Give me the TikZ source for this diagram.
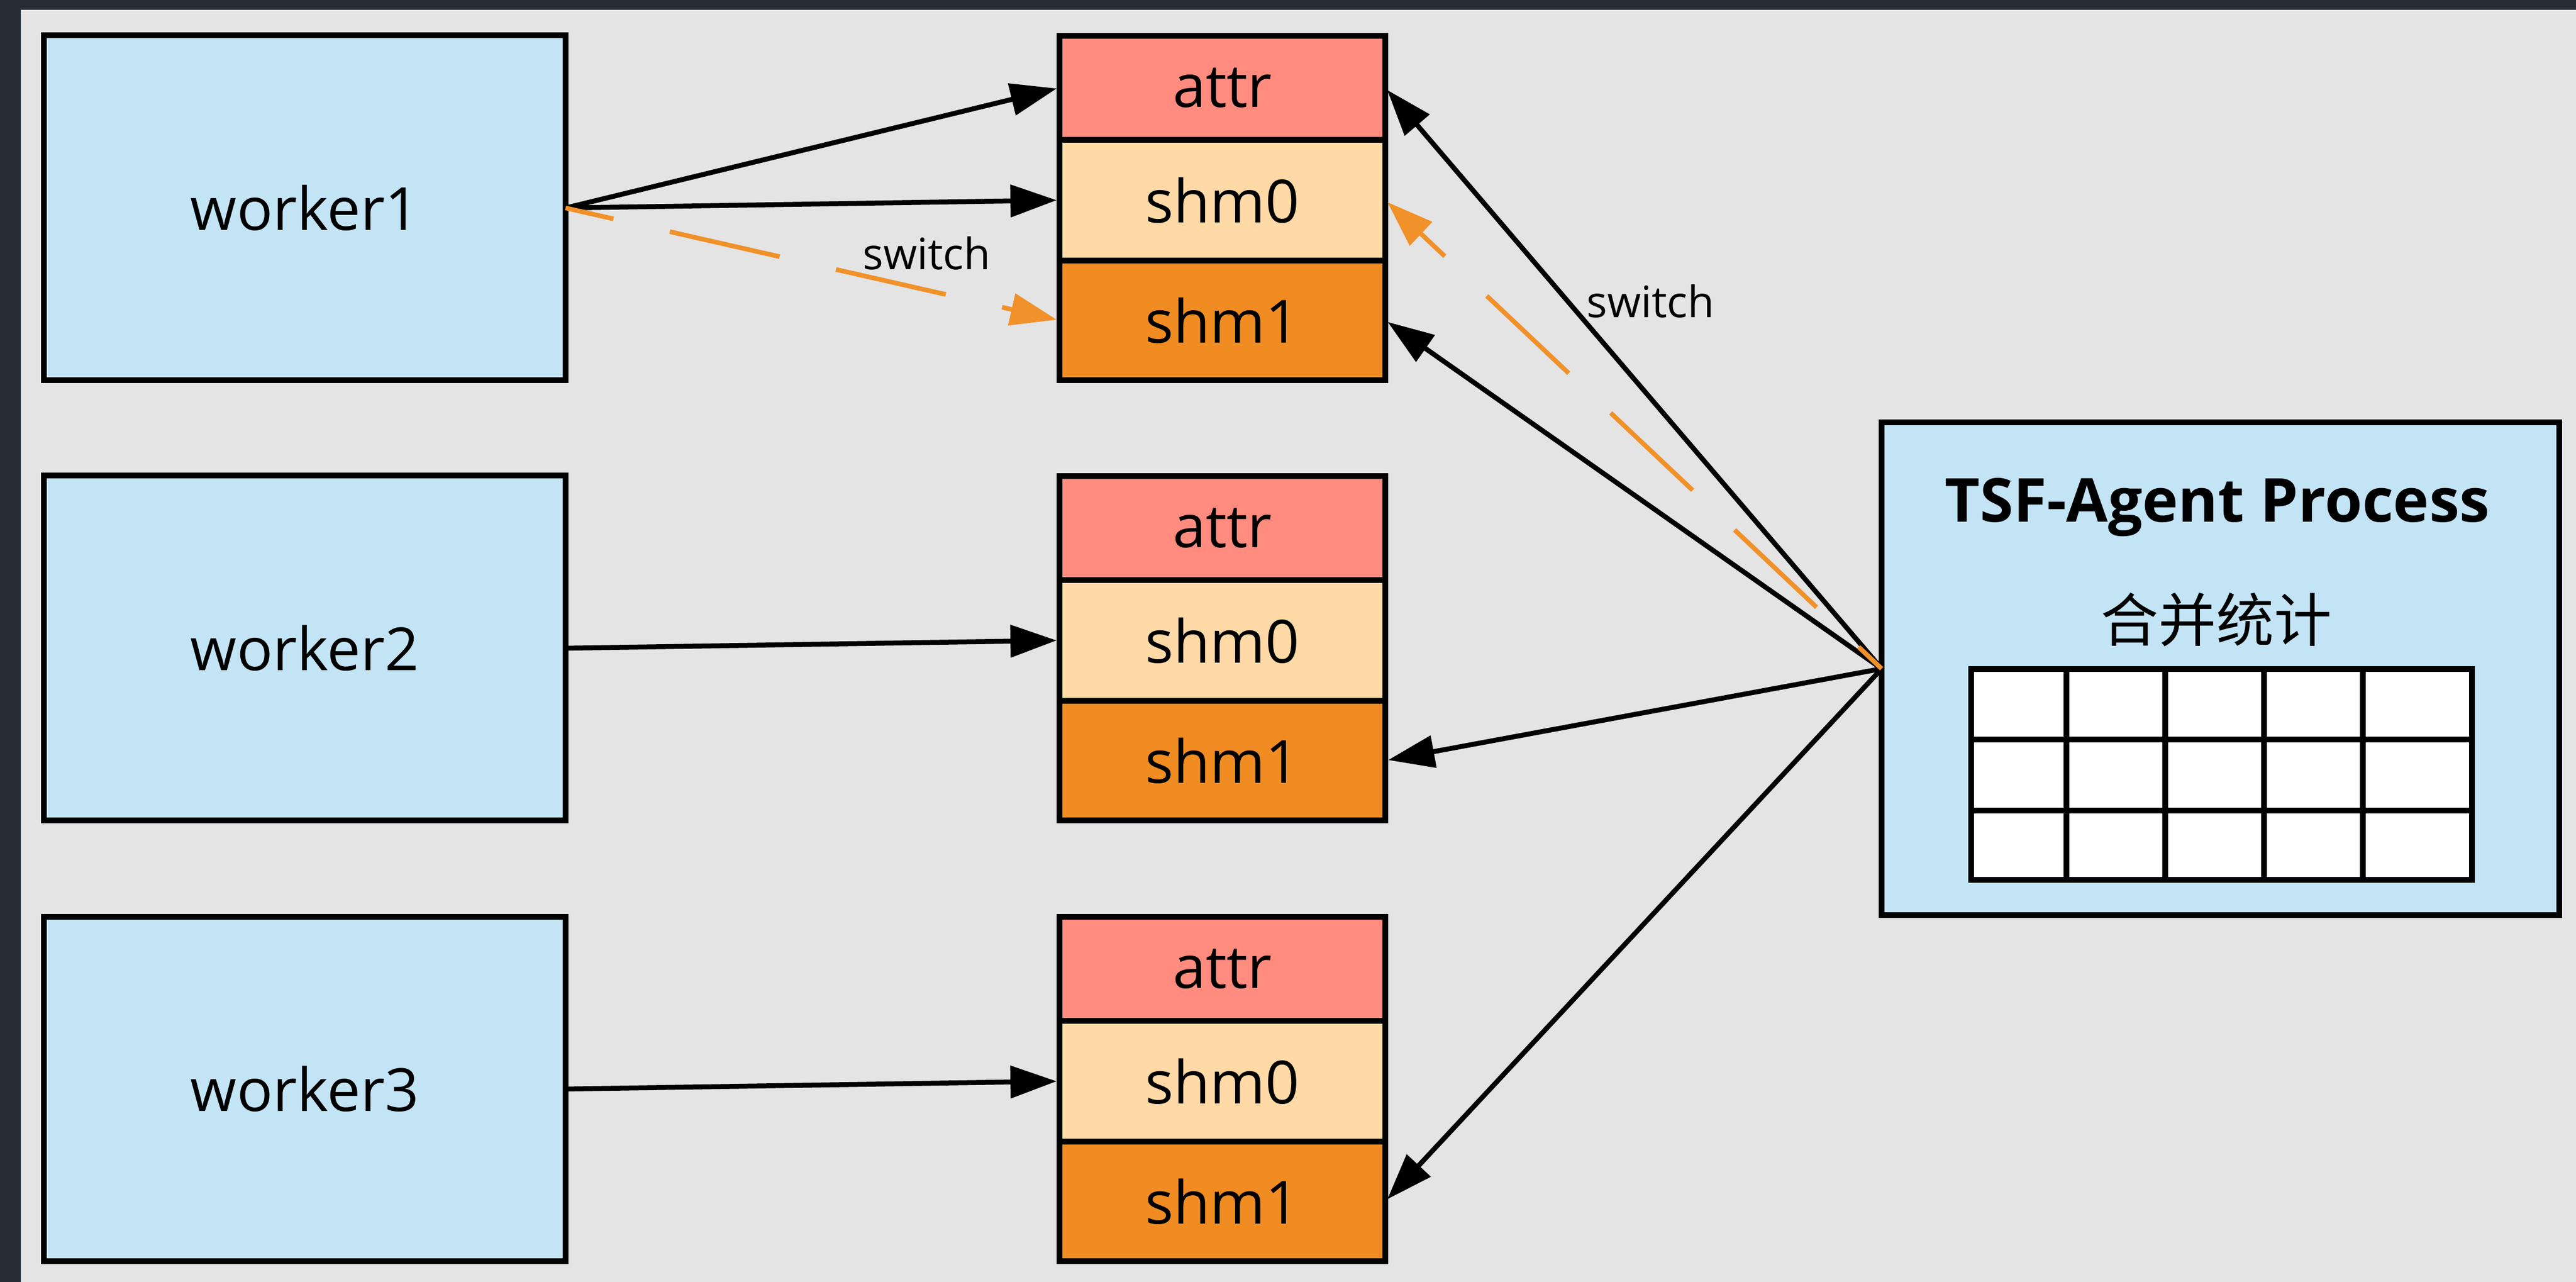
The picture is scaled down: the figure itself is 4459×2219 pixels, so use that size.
\documentclass[tikz,border=0pt]{standalone}
\usepackage{fontspec}
\setmainfont{Open Sans}
\newfontfamily\cjk{Noto Sans CJK SC}
\usetikzlibrary{arrows.meta}
\definecolor{framec}{HTML}{252D37}
\definecolor{canvasc}{HTML}{E4E4E4}
\definecolor{wblue}{HTML}{C3E4F5}
\definecolor{attrc}{HTML}{FF8C7E}
\definecolor{shmzero}{HTML}{FFDAA6}
\definecolor{shmone}{HTML}{F08C22}
\definecolor{swc}{HTML}{F0912A}
\begin{document}
\begin{tikzpicture}[x=0.1pt,y=-0.1pt,
  lbl/.style={font=\fontsize{10.3pt}{12pt}\selectfont},
  worker/.style={draw, line width=1pt, fill=wblue, minimum width=90.3pt, minimum height=59.7pt, inner sep=0pt, outer sep=0pt, lbl},
  seg/.style={draw, line width=1pt, minimum width=56.4pt, inner sep=0pt, outer sep=0pt, anchor=north, lbl},
  attrseg/.style={seg, fill=attrc, minimum height=18pt},
  zeroseg/.style={seg, fill=shmzero, minimum height=20.9pt},
  oneseg/.style={seg, fill=shmone, minimum height=20.7pt},
  link/.style={line width=0.85pt, -{Triangle[length=8pt,width=5.5pt]}, shorten >=0.5pt},
  swlink/.style={line width=0.8pt, draw=swc, -{Triangle[length=8pt,width=5.5pt,fill=swc]}, dash pattern=on 19.5pt off 10pt, shorten >=0.5pt},
  swlabel/.style={font=\fontsize{7.5pt}{9pt}\selectfont, inner sep=0pt}
]
\useasboundingbox (0,0) rectangle (4459,2219);
\fill[framec] (0,0) rectangle (4459,2219);
\fill[canvasc] (36,17) rectangle (4459,2219);

% workers
\node[worker] (w1) at (527.5,360) {worker1};
\node[worker] (w2) at (527.5,1122) {worker2};
\node[worker] (w3) at (527.5,1885) {worker3};

% shared memory blocks
\node[attrseg] (a1) at (2116,62) {attr};
\node[zeroseg] (z1) at (a1.south) {shm0};
\node[oneseg] (o1) at (z1.south) {shm1};

\node[attrseg] (a2) at (2116,824) {attr};
\node[zeroseg] (z2) at (a2.south) {shm0};
\node[oneseg] (o2) at (z2.south) {shm1};

\node[attrseg] (a3) at (2116,1587) {attr};
\node[zeroseg] (z3) at (a3.south) {shm0};
\node[oneseg] (o3) at (z3.south) {shm1};

% agent process
\node[draw, line width=1pt, fill=wblue, minimum width=117.3pt, minimum height=85.3pt, inner sep=0pt, outer sep=0pt] (tsf) at (3843.5,1157.5) {};
\node[font=\bfseries\fontsize{10.5pt}{12pt}\selectfont, anchor=base, inner sep=0pt] (title) at (3838,904) {TSF-Agent Process};
\node[font=\cjk\fontsize{10pt}{12pt}\selectfont, anchor=base, inner sep=0pt] (merge) at (3836,1111) {合并统计};
\draw[line width=1pt, fill=white] (3412,1158) rectangle (4279,1523);
\foreach \gx in {3577,3748,3919,4090} \draw[line width=1pt] (\gx,1158) -- (\gx,1523);
\foreach \gy in {1280,1403} \draw[line width=1pt] (3412,\gy) -- (4279,\gy);

% worker connectors
\draw[link] (w1.east) -- (a1.west);
\draw[link] (w1.east) -- (z1.west);
\draw[swlink, dash phase=11pt] (w1.east) -- (o1.west);
\node[swlabel] (sw1) at (1604,438) {switch};
\draw[link] (w2.east) -- (z2.west);
\draw[link] (w3.east) -- (z3.west);

% agent connectors
\draw[link] (tsf.west) -- (a1.east);
\draw[link] (tsf.west) -- (o1.east);
\draw[link] (tsf.west) -- (o2.east);
\draw[link] (tsf.west) -- (o3.east);
\draw[swlink, dash phase=14pt] (tsf.west) -- (z1.east);
\node[swlabel] (sw2) at (2857,521) {switch};
\end{tikzpicture}
\end{document}
